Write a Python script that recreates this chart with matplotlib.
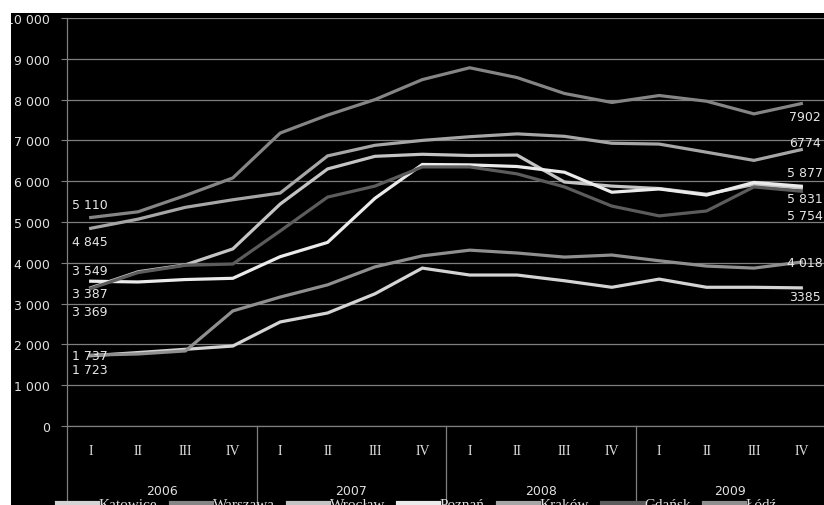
import matplotlib
matplotlib.use("Agg")
import matplotlib.pyplot as plt
import matplotlib.transforms as mtransforms
from matplotlib.patches import Rectangle

quarters = ["I", "II", "III", "IV"] * 4
years = ["2006", "2007", "2008", "2009"]
cities = ["Katowice", "Warszawa", "Wrocław", "Poznań", "Kraków", "Gdańsk", "Łódź"]

katowice = [1723, 1800, 1880, 1960, 2550, 2770, 3240, 3870, 3700, 3700, 3560, 3400, 3600, 3400, 3400, 3385]
warszawa = [5110, 5250, 5650, 6080, 7180, 7620, 8000, 8490, 8780, 8540, 8150, 7930, 8100, 7960, 7650, 7902]
wroclaw = [3387, 3780, 3950, 4340, 5440, 6300, 6610, 6660, 6630, 6640, 5980, 5880, 5820, 5680, 5920, 5831]
poznan = [3549, 3530, 3590, 3620, 4150, 4500, 5580, 6410, 6400, 6360, 6220, 5730, 5810, 5660, 5970, 5877]
krakow = [4845, 5070, 5360, 5545, 5710, 6620, 6880, 7000, 7090, 7160, 7100, 6930, 6910, 6710, 6510, 6774]
gdansk = [3369, 3760, 3940, 3970, 4780, 5610, 5880, 6350, 6350, 6180, 5860, 5390, 5150, 5270, 5860, 5754]
lodz = [1737, 1765, 1840, 2820, 3160, 3460, 3900, 4170, 4310, 4240, 4140, 4190, 4050, 3920, 3870, 4018]

series = [katowice, warszawa, wroclaw, poznan, krakow, gdansk, lodz]
colors = ["#d4d4d4", "#858585", "#c4c4c4", "#ebebeb", "#a6a6a6", "#5c5c5c", "#8f8f8f"]

# label offsets in pixels (first point, last point)
start_off = [-14, 13, -6, 11, -13, -23, 0]
end_off = [-9, -13, -10, 14, 7, -24, 0]


def fmt(v):
    return f"{v:,.0f}".replace(",", " ")


fig = plt.figure(figsize=(8.24, 5.06), dpi=100, facecolor="white")
fig.patches.append(Rectangle((11 / 824, 0), 1, 1 - 14 / 506, transform=fig.transFigure,
                             facecolor="black", edgecolor="none", zorder=-1))

ax = fig.add_axes([67 / 824, 1 - 427 / 506, 758 / 824, 408 / 506])
ax.set_facecolor("black")
grid_c = "#7f7f7f"
x = list(range(len(quarters)))

for name, vals, c, so, eo in zip(cities, series, colors, start_off, end_off):
    ax.plot(x, vals, color=c, lw=2.3, label=name, solid_joinstyle="miter", zorder=3)
    ax.annotate(fmt(vals[0]), (x[0], vals[0]), xytext=(-1, so), textcoords="offset pixels",
                ha="center", va="center", color="#e6e6e6", fontsize=9, family="DejaVu Sans", zorder=4)
    end_txt = fmt(vals[-1]) if name not in ("Warszawa", "Kraków", "Katowice") else str(vals[-1])
    ax.annotate(end_txt, (x[-1], vals[-1]), xytext=(4, eo), textcoords="offset pixels",
                ha="center", va="center", color="#e6e6e6", fontsize=9, family="DejaVu Sans", zorder=4)

ax.set_xlim(-0.5, 15.5)
ax.set_ylim(0, 10000)
ax.set_yticks(range(0, 10001, 1000))
ax.set_yticklabels([fmt(v) for v in range(0, 10001, 1000)], family="DejaVu Sans", fontsize=9, color="#e0e0e0")
ax.set_xticks([])
ax.yaxis.grid(True, color=grid_c, lw=0.9)
ax.tick_params(axis="y", length=4, color=grid_c, pad=8)
for s in ["top", "right"]:
    ax.spines[s].set_visible(False)
for s in ["left", "bottom"]:
    ax.spines[s].set_color(grid_c)
    ax.spines[s].set_linewidth(0.9)

# category axis below the plot
trans = mtransforms.blended_transform_factory(ax.transData, ax.transAxes)
for i, q in enumerate(quarters):
    ax.text(i, -0.061, q, transform=trans, ha="center", va="center", color="#e0e0e0",
            fontsize=10, family="Liberation Serif")
for k, yr in enumerate(years):
    ax.text(4 * k + 1.5, -0.158, yr, transform=trans, ha="center", va="center", color="#e0e0e0",
            fontsize=9, family="DejaVu Sans")
for b in [-0.5, 3.5, 7.5, 11.5]:
    ax.plot([b, b], [0, -0.25], transform=trans, color=grid_c, lw=0.9, clip_on=False)

leg = fig.legend(loc="center", bbox_to_anchor=(417 / 824, 1 - 505 / 506), ncol=7, frameon=False,
                 prop={"family": "Liberation Serif", "size": 11}, handlelength=2.7,
                 handletextpad=0.05, columnspacing=0.85, borderaxespad=0)
for t in leg.get_texts():
    t.set_color("#e0e0e0")
for h in leg.get_lines():
    h.set_linewidth(3)

# white margin on top clips the highest tick label
fig.add_artist(Rectangle((0, 1 - 14 / 506), 1, 14 / 506, transform=fig.transFigure,
                         facecolor="white", edgecolor="none", zorder=10))
fig.add_artist(Rectangle((0, 0), 11 / 824, 1, transform=fig.transFigure,
                         facecolor="white", edgecolor="none", zorder=10))

fig.savefig("out.png", dpi=100, facecolor="white")
